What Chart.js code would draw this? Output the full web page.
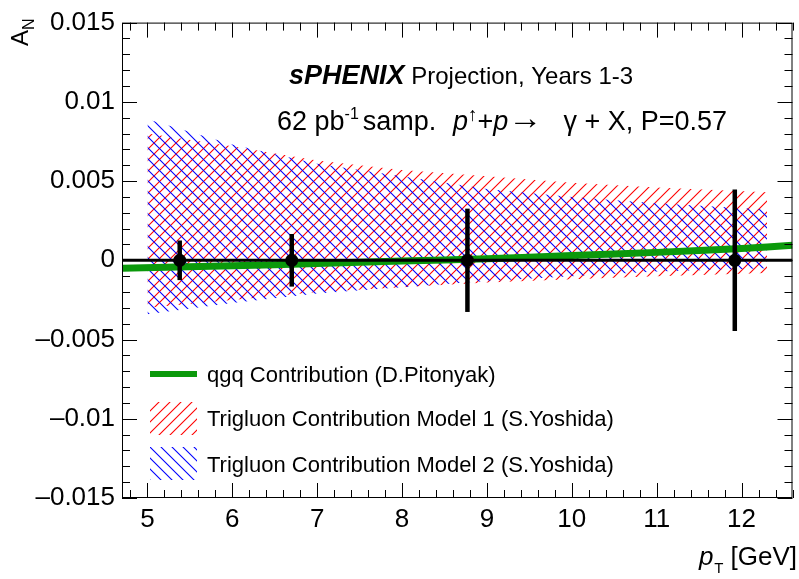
<!DOCTYPE html>
<html>
<head>
<meta charset="utf-8">
<script src="https://cdn.jsdelivr.net/npm/chart.js@4.4.1/dist/chart.umd.min.js"></script>
<style>
  body { margin: 0; background: #fff; }
  canvas { display: block; }
</style>
</head>
<body>
<canvas id="asymChart" width="799" height="579"></canvas>
<script>
// --- data ---
const bandX     = [5, 6, 7, 8, 9, 10, 11, 12.3];
const model1Up  = [0.0080, 0.0072, 0.0063, 0.0057, 0.0053, 0.0049, 0.0046, 0.0043];
const model1Lo  = [-0.0030, -0.0025, -0.0020, -0.0017, -0.0014, -0.0012, -0.0010, -0.0008];
const model2Up  = [0.0089, 0.0073, 0.0061, 0.0053, 0.0045, 0.0040, 0.0036, 0.0032];
const model2Lo  = [-0.0034, -0.0027, -0.0021, -0.0017, -0.0013, -0.0010, -0.0007, -0.0005];

const qgqX = [4.7, 6, 7, 8, 9, 10, 11, 12, 12.6];
const qgqY = [-0.0005, -0.00035, -0.0002, -0.00005, 0.0001, 0.0003, 0.0005, 0.00075, 0.00095];

const zeroX = [4.7, 12.6];
const zeroY = [0, 0];

const ptX   = [5.38, 6.7, 8.77, 11.92];
const ptY   = [0, 0, 0, 0];
const ptErr = [0.00125, 0.00166, 0.00326, 0.00446];

const xTickValues = [5, 6, 7, 8, 9, 10, 11, 12];
const xTickLabels = ["5", "6", "7", "8", "9", "10", "11", "12"];
const yTickValues = [-0.015, -0.01, -0.005, 0, 0.005, 0.01, 0.015];
const yTickLabels = ["\u20130.015", "\u20130.01", "\u20130.005", "0", "0.005", "0.01", "0.015"];

const legendLabels = [
    "qgq Contribution (D.Pitonyak)",
    "Trigluon Contribution Model 1 (S.Yoshida)",
    "Trigluon Contribution Model 2 (S.Yoshida)"
];

const FONT = "'Liberation Sans', Arial, Helvetica, sans-serif";
const GREEN = "#0b990b";

function pts(xs, ys) {
    return xs.map((x, i) => ({ x: x, y: ys[i] }));
}

function makeHatch(color, dir) {
    const s = 11;
    const c = document.createElement("canvas");
    c.width = s; c.height = s;
    const g = c.getContext("2d");
    g.strokeStyle = color;
    g.lineWidth = 1.1;
    g.beginPath();
    if (dir === "/") {
        g.moveTo(0, s); g.lineTo(s, 0);
        g.moveTo(-2, 2); g.lineTo(2, -2);
        g.moveTo(s - 2, s + 2); g.lineTo(s + 2, s - 2);
    } else {
        g.moveTo(0, 0); g.lineTo(s, s);
        g.moveTo(-2, s - 2); g.lineTo(2, s + 2);
        g.moveTo(s - 2, -2); g.lineTo(s + 2, 2);
    }
    g.stroke();
    return g.createPattern(c, "repeat");
}

const ctx = document.getElementById("asymChart").getContext("2d");
const redHatch = makeHatch("#ff0000", "/");
const blueHatch = makeHatch("#0000ff", "\\");

function drawRuns(c, x, y, runs) {
    runs.forEach(r => {
        if (r.at !== undefined) x = r.at;
        c.font = r.font;
        c.fillText(r.t, x, y + (r.dy || 0));
        x += c.measureText(r.t).width + (r.gap || 0);
    });
    return x;
}

// error bars under the markers
const errorBars = {
    id: "errorBars",
    beforeDatasetDraw(chart, args) {
        if (args.index !== 6) return;
        const xs = chart.scales.x, ys = chart.scales.y;
        const c = chart.ctx;
        c.save();
        c.strokeStyle = "#000";
        c.lineWidth = 4.5;
        ptX.forEach((x, i) => {
            const px = xs.getPixelForValue(x);
            c.beginPath();
            c.moveTo(px, ys.getPixelForValue(ptY[i] + ptErr[i]));
            c.lineTo(px, ys.getPixelForValue(ptY[i] - ptErr[i]));
            c.stroke();
        });
        c.restore();
    }
};

// ROOT-like frame, inward ticks, texts and legend
const decorations = {
    id: "decorations",
    afterDraw(chart) {
        const c = chart.ctx;
        const a = chart.chartArea;
        const xs = chart.scales.x, ys = chart.scales.y;
        c.save();
        c.strokeStyle = "#000";
        c.lineWidth = 1;
        c.strokeRect(a.left + 0.5, a.top + 0.5, a.right - a.left - 1, a.bottom - a.top - 1);

        c.beginPath();
        for (let i = -15; i <= 15; i++) {
            const py = Math.round(ys.getPixelForValue(i / 1000)) + 0.5;
            const len = i % 5 === 0 ? 15 : 8;
            c.moveTo(a.left, py); c.lineTo(a.left + len, py);
            c.moveTo(a.right, py); c.lineTo(a.right - len, py);
        }
        for (let k = 24; k <= 63; k++) {
            const px = Math.round(xs.getPixelForValue(k / 5)) + 0.5;
            const len = k % 5 === 0 ? 15 : 8;
            c.moveTo(px, a.bottom); c.lineTo(px, a.bottom - len);
            c.moveTo(px, a.top); c.lineTo(px, a.top + len);
        }
        c.stroke();

        c.fillStyle = "#000";
        c.textBaseline = "alphabetic";
        c.textAlign = "left";

        // header
        drawRuns(c, 289, 84, [
            { t: "sPHENIX", font: "italic bold 27px " + FONT, gap: 0 },
            { t: " Projection, Years 1-3", font: "24px " + FONT }
        ]);
        drawRuns(c, 277, 130, [
            { t: "62 pb", font: "27px " + FONT },
            { t: "-1", font: "16px " + FONT, dy: -11, gap: 4 },
            { t: "samp.", font: "27px " + FONT },
            { t: "p", font: "italic 27px " + FONT, at: 453 },
            { t: "\u2191", font: "19px " + FONT, dy: -9 },
            { t: "+", font: "27px " + FONT },
            { t: "p", font: "italic 27px " + FONT },
            { t: "\u2192", font: "34px " + FONT, dy: -1 }
        ]);
        c.textAlign = "right";
        c.font = "27px " + FONT;
        c.fillText("\u03b3 + X, P=0.57", 727, 130);

        // axis titles
        let x = 797;
        c.font = "26px " + FONT;
        c.fillText("[GeV]", x, 565);
        x -= c.measureText("[GeV]").width + 7;
        c.font = "15px " + FONT;
        c.fillText("T", x, 573);
        x -= c.measureText("T").width + 1;
        c.font = "italic 26px " + FONT;
        c.fillText("p", x, 565);

        c.save();
        c.translate(28, 46);
        c.rotate(-Math.PI / 2);
        c.textAlign = "left";
        drawRuns(c, 0, 0, [
            { t: "A", font: "24px " + FONT },
            { t: "N", font: "16px " + FONT, dy: 6 }
        ]);
        c.restore();

        // legend
        c.textAlign = "left";
        c.font = "22px " + FONT;
        c.strokeStyle = GREEN;
        c.lineWidth = 6;
        c.beginPath();
        c.moveTo(150, 374); c.lineTo(197, 374);
        c.stroke();
        c.fillStyle = redHatch;
        c.fillRect(150, 402, 47, 33);
        c.fillStyle = blueHatch;
        c.fillRect(150, 447, 47, 33);
        c.fillStyle = "#000";
        c.fillText(legendLabels[0], 207, 382);
        c.fillText(legendLabels[1], 207, 426);
        c.fillText(legendLabels[2], 207, 472);
        c.restore();
    }
};

new Chart(ctx, {
    type: "line",
    data: {
        datasets: [
            { data: pts(bandX, model1Up), fill: "+1", backgroundColor: redHatch, borderWidth: 0, pointRadius: 0, order: 4 },
            { data: pts(bandX, model1Lo), fill: false, borderWidth: 0, pointRadius: 0, order: 4 },
            { data: pts(bandX, model2Up), fill: "+1", backgroundColor: blueHatch, borderWidth: 0, pointRadius: 0, order: 3 },
            { data: pts(bandX, model2Lo), fill: false, borderWidth: 0, pointRadius: 0, order: 3 },
            { data: pts(qgqX, qgqY), fill: false, borderColor: GREEN, borderWidth: 7, pointRadius: 0, tension: 0.3, order: 2 },
            { data: pts(zeroX, zeroY), fill: false, borderColor: "#000", borderWidth: 3, pointRadius: 0, order: 1 },
            { data: pts(ptX, ptY), showLine: false, pointRadius: 6.5, pointBackgroundColor: "#000", pointBorderWidth: 0, order: 0 }
        ]
    },
    options: {
        responsive: false,
        animation: false,
        events: [],
        layout: { padding: { left: 0, right: 2, top: 20, bottom: 0 } },
        plugins: {
            legend: { display: false },
            tooltip: { enabled: false }
        },
        scales: {
            x: {
                type: "linear",
                min: 4.7,
                max: 12.6,
                afterBuildTicks: s => { s.ticks = xTickValues.map(v => ({ value: v })); },
                afterFit: s => { s.height = 81; },
                grid: { display: false, drawTicks: false },
                border: { display: false },
                ticks: {
                    padding: 6,
                    maxRotation: 0,
                    autoSkip: false,
                    color: "#000",
                    font: { family: FONT, size: 26 },
                    callback: (v, i) => xTickLabels[i]
                }
            },
            y: {
                type: "linear",
                min: -0.015,
                max: 0.015,
                afterBuildTicks: s => { s.ticks = yTickValues.map(v => ({ value: v })); },
                afterFit: s => { s.width = 122; },
                grid: { display: false, drawTicks: false },
                border: { display: false },
                ticks: {
                    padding: 7,
                    autoSkip: false,
                    color: "#000",
                    font: { family: FONT, size: 26 },
                    callback: (v, i) => yTickLabels[i]
                }
            }
        }
    },
    plugins: [errorBars, decorations]
});
</script>
</body>
</html>
